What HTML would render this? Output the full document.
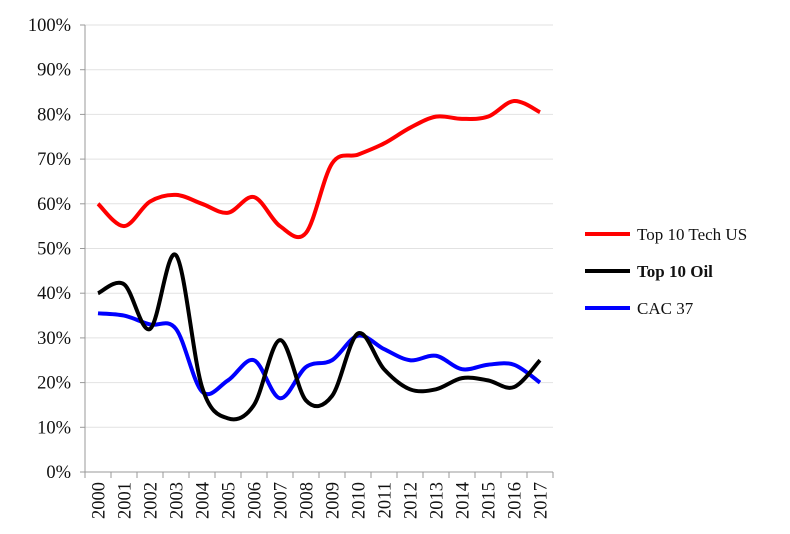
<!DOCTYPE html>
<html><head><meta charset="utf-8"><style>
body{margin:0;background:#fff;width:790px;height:529px;overflow:hidden}
svg text{font-family:"Liberation Serif",serif;fill:#111}
</style></head><body>
<svg id="s" width="790" height="529" xmlns="http://www.w3.org/2000/svg"></svg>
<script>
const s=document.getElementById('s');
const y0=472, py=4.47, x0=85, dx=26;
let h='';
for(let i=0;i<=10;i++){const y=y0-i*10*py;
 if(i>0)h+=`<line x1="${x0}" x2="553" y1="${y}" y2="${y}" stroke="#e2e2e2" stroke-width="1"/>`;
 h+=`<line x1="80" x2="${x0}" y1="${y}" y2="${y}" stroke="#999"/>`;
 h+=`<text x="71" y="${y+6}" font-size="18.5" text-anchor="end">${i*10}%</text>`;}
h+=`<line x1="${x0}" x2="${x0}" y1="${y0-100*py}" y2="${y0}" stroke="#999"/>`;
h+=`<line x1="${x0}" x2="553" y1="${y0}" y2="${y0}" stroke="#999"/>`;
for(let i=0;i<=18;i++){const x=x0+i*dx;h+=`<line x1="${x}" x2="${x}" y1="${y0}" y2="${y0+6}" stroke="#999"/>`;}
for(let i=0;i<18;i++){const x=x0+13+i*dx;h+=`<text transform="translate(${x+6.5},${y0+10}) rotate(-90)" font-size="18.5" text-anchor="end">${2000+i}</text>`;}
const R=[60,55,60.5,62,60,58,61.5,55,53.5,69,71,73.5,77,79.5,79,79.5,83,80.5];
const K=[40,42,32,48.5,19,12,15,29.5,16,17,31,23,18.5,18.5,21,20.5,19,25];
const B=[35.5,35,33,32,18,20.5,25,16.5,23.5,25,30.5,27.5,25,26,23,24,24,20];
function path(d){const p=d.map((v,i)=>[x0+13+i*dx,y0-v*py]);let o=`M${p[0][0]},${p[0][1]}`;
 for(let i=0;i<p.length-1;i++){const a=p[Math.max(0,i-1)],b=p[i],c=p[i+1],e=p[Math.min(p.length-1,i+2)];
 o+=`C${b[0]+(c[0]-a[0])/6},${b[1]+(c[1]-a[1])/6} ${c[0]-(e[0]-b[0])/6},${c[1]-(e[1]-b[1])/6} ${c[0]},${c[1]}`;}return o;}
h+=`<path d="${path(B)}" fill="none" stroke="#0000ff" stroke-width="4"/>`;
h+=`<path d="${path(K)}" fill="none" stroke="#000" stroke-width="4"/>`;
h+=`<path d="${path(R)}" fill="none" stroke="#ff0000" stroke-width="4"/>`;
h+=`<line x1="585" x2="630" y1="234" y2="234" stroke="#ff0000" stroke-width="4"/><text x="637" y="240" font-size="17">Top 10 Tech US</text>`;
h+=`<line x1="585" x2="630" y1="271" y2="271" stroke="#000" stroke-width="4"/><text x="637" y="277" font-size="17" font-weight="bold">Top 10 Oil</text>`;
h+=`<line x1="585" x2="630" y1="308" y2="308" stroke="#0000ff" stroke-width="4"/><text x="637" y="314" font-size="17">CAC 37</text>`;
s.innerHTML=h;
</script>
</body></html>
